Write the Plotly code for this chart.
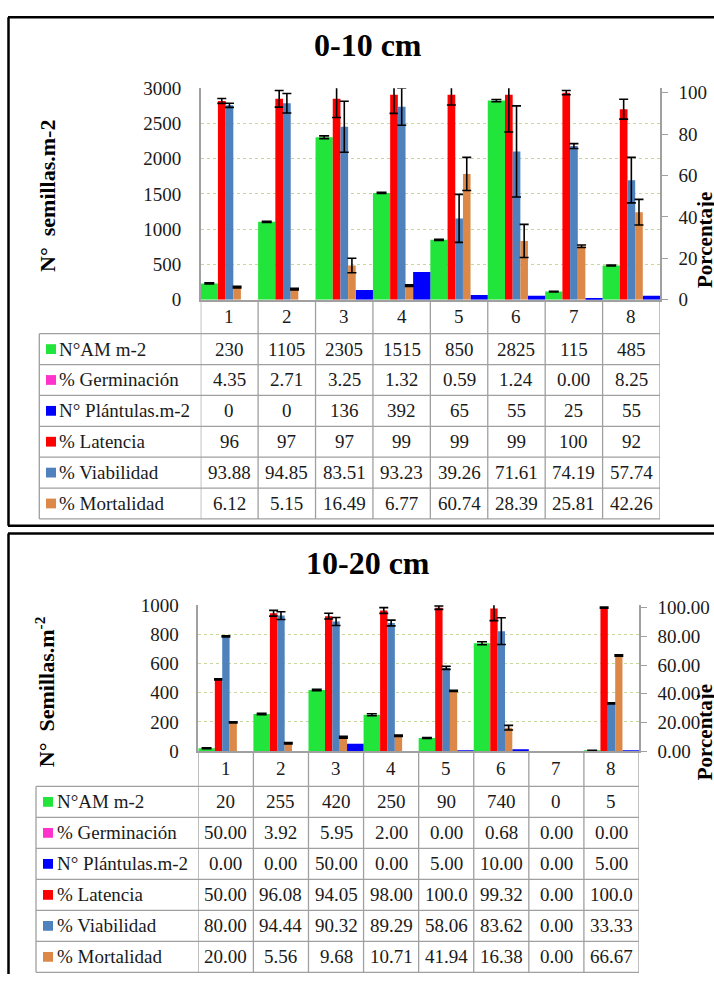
import plotly.graph_objects as go

W, H = 714, 985
NAN = float("nan")

# ---------------- data ----------------
categories = ["1", "2", "3", "4", "5", "6", "7", "8"]
row_labels = ["N°AM m-2", "% Germinación", "N° Plántulas.m-2", "% Latencia", "% Viabilidad", "% Mortalidad"]

# 0-10 cm
top_am = [230, 1105, 2305, 1515, 850, 2825, 115, 485]
top_germ = [4.35, 2.71, 3.25, 1.32, 0.59, 1.24, 0.00, 8.25]
top_plant = [0, 0, 136, 392, 65, 55, 25, 55]
top_lat = [96, 97, 97, 99, 99, 99, 100, 92]
top_viab = [93.88, 94.85, 83.51, 93.23, 39.26, 71.61, 74.19, 57.74]
top_mort = [6.12, 5.15, 16.49, 6.77, 60.74, 28.39, 25.81, 42.26]
top_am_err = [8, 8, 20, 8, 8, 15, 5, 8]
top_lat_err = [1.2, 4.0, 9.0, 9.0, 5.0, 18.0, 1.0, 4.8]
top_viab_err = [1.0, 4.7, 12.3, 9.0, 11.6, 22.0, 1.2, 11.0]
top_mort_err = [0.4, 0.4, 3.5, 0.4, 8.0, 8.0, 0.6, 6.2]

# 10-20 cm
bot_am = [20, 255, 420, 250, 90, 740, 0, 5]
bot_germ = [50.00, 3.92, 5.95, 2.00, 0.00, 0.68, 0.00, 0.00]
bot_plant = [0, 0, 50, 0, 5, 10, 0, 5]
bot_lat = [50.00, 96.08, 94.05, 98.00, 100.0, 99.32, 0.00, 100.0]
bot_viab = [80.00, 94.44, 90.32, 89.29, 58.06, 83.62, 0.00, 33.33]
bot_mort = [20.00, 5.56, 9.68, 10.71, 41.94, 16.38, 0.00, 66.67]
bot_am_err = [3, 5, 5, 7, 3, 10, 0, 0]
bot_lat_err = [0.4, 2.0, 2.0, 2.0, 1.2, 8.4, 0, 0.4]
bot_viab_err = [0.4, 2.7, 2.8, 2.0, 1.1, 9.3, 0, 0.4]
bot_mort_err = [0.4, 0.5, 0.6, 0.5, 0.4, 1.6, 0, 0.5]

# ---------------- styles ----------------
C_GREEN = "#22E53C"
C_MAG = "#FF33CC"
C_BLUE = "#0000FF"
C_RED = "#FF0000"
C_STEEL = "#4F81BD"
C_ORANGE = "#DB8848"
row_colors = [C_GREEN, C_MAG, C_BLUE, C_RED, C_STEEL, C_ORANGE]
GRAY = "#a0a0a0"
FONT = "Liberation Serif"
TXT = "#1a1a1a"


def px(x):
    return x / W


def py(y):
    return 1 - y / H


def nz(vals):
    # empty (zero) cells draw no bar and no error bar
    return [v if v else None for v in vals]


fig = go.Figure()


def err(arr, w=4.5):
    return dict(type="data", array=arr, visible=True, color="black", thickness=1.6, width=w)


def add_panel(xa, ya_p, ya_s, am, plant, lat, viab, mort, am_e, lat_e, viab_e, mort_e):
    common = dict(x=categories, xaxis=xa, showlegend=False, marker_line_width=0)
    fig.add_trace(go.Bar(y=nz(am), yaxis=ya_p, offset=-0.5, width=0.3, marker_color=C_GREEN,
                         error_y=err(am_e, 5), **common))
    fig.add_trace(go.Bar(y=nz(lat), yaxis=ya_s, offset=-0.2, width=0.134, marker_color=C_RED,
                         error_y=err(lat_e), **common))
    fig.add_trace(go.Bar(y=nz(viab), yaxis=ya_s, offset=-0.066, width=0.134, marker_color=C_STEEL,
                         error_y=err(viab_e), **common))
    fig.add_trace(go.Bar(y=nz(mort), yaxis=ya_s, offset=0.068, width=0.132, marker_color=C_ORANGE,
                         error_y=err(mort_e), **common))
    fig.add_trace(go.Bar(y=nz(plant), yaxis=ya_p, offset=0.2, width=0.3, marker_color=C_BLUE, **common))


add_panel("x", "y", "y2", top_am, top_plant, top_lat, top_viab, top_mort,
          top_am_err, top_lat_err, top_viab_err, top_mort_err)
add_panel("x2", "y3", "y4", bot_am, bot_plant, bot_lat, bot_viab, bot_mort,
          bot_am_err, bot_lat_err, bot_viab_err, bot_mort_err)

tickfont = dict(family=FONT, size=19, color=TXT)
grid = dict(showgrid=True, gridcolor="#c5d89a", griddash="dot", gridwidth=1)

# panel geometry (px)
TOP = dict(x0=200.7, x1=660, y0=80, y1=296)
BOT = dict(x0=198.3, x1=639, y0=608.3, y1=757.3)

xcommon = dict(type="category", range=[-0.5, 7.5], showgrid=False, showticklabels=False,
               showline=True, linecolor=GRAY, linewidth=1.5, ticks="", zeroline=False, fixedrange=True)

fig.update_layout(
    width=W, height=H, margin=dict(l=0, r=0, t=0, b=0),
    paper_bgcolor="white", plot_bgcolor="white", barmode="overlay",
    xaxis=dict(domain=[px(TOP["x0"]), px(TOP["x1"])], anchor="y", **xcommon),
    yaxis=dict(domain=[py(TOP["y1"]), py(TOP["y0"])], anchor="x", range=[0, 3000],
               tickvals=[0, 500, 1000, 1500, 2000, 2500, 3000], ticks="",
               showline=True, linecolor=GRAY, linewidth=1.5, zeroline=False,
               tickfont=tickfont, ticklabelstandoff=14, **grid),
    yaxis2=dict(overlaying="y", side="right", anchor="x", range=[0, 102.1],
                tickvals=[0, 20, 40, 60, 80, 100], showgrid=False, zeroline=False,
                showline=True, linecolor=GRAY, linewidth=1.5, ticks="outside", ticklen=6,
                tickcolor=GRAY, tickwidth=1.3, tickfont=tickfont, ticklabelstandoff=7),
    xaxis2=dict(domain=[px(BOT["x0"]), px(BOT["x1"])], anchor="y3", **xcommon),
    yaxis3=dict(domain=[py(BOT["y1"]), py(BOT["y0"])], anchor="x2", range=[0, 1000],
                tickvals=[0, 200, 400, 600, 800, 1000], ticks="",
                showline=True, linecolor=GRAY, linewidth=1.5, zeroline=False,
                tickfont=tickfont, ticklabelstandoff=14, **grid),
    yaxis4=dict(overlaying="y3", side="right", anchor="x2", range=[0, 101.6],
                tickvals=[0, 20, 40, 60, 80, 100], tickformat=".2f", showgrid=False, zeroline=False,
                showline=True, linecolor=GRAY, linewidth=1.5, ticks="outside", ticklen=6,
                tickcolor=GRAY, tickwidth=1.3, tickfont=tickfont, ticklabelstandoff=7),
)

shapes = []
annotations = []


def hline(x0, x1, y, color=GRAY, w=1.3):
    shapes.append(dict(type="line", xref="paper", yref="paper", x0=px(x0), x1=px(x1),
                       y0=py(y), y1=py(y), line=dict(color=color, width=w)))


def vline(x, y0, y1, color=GRAY, w=1.3, xref="paper"):
    xv = px(x) if xref == "paper" else x
    shapes.append(dict(type="line", xref=xref, yref="paper", x0=xv, x1=xv,
                       y0=py(y0), y1=py(y1), line=dict(color=color, width=w)))


def table(xref, geo, left, key_x, text_x, row_top, row_h, rows, fmts):
    header_c = (geo["y1"] + row_top) / 2
    bottom = row_top + row_h * len(rows)
    for k in range(len(rows) + 1):
        hline(left, geo["x1"], row_top + k * row_h)
    vline(left, row_top, bottom)
    for k in range(len(categories) + 1):
        vline(k - 0.5, geo["y1"], bottom, xref=xref)
    for i, c in enumerate(categories):
        annotations.append(dict(x=i, xref=xref, y=py(header_c), yref="paper", text=c,
                                showarrow=False, font=dict(family=FONT, size=19, color=TXT),
                                xanchor="center", yanchor="middle"))
    for r, (lab, vals) in enumerate(zip(row_labels, rows)):
        yc = row_top + (r + 0.5) * row_h
        shapes.append(dict(type="rect", xref="paper", yref="paper", x0=px(key_x), x1=px(key_x + 10),
                           y0=py(yc + 5), y1=py(yc - 5), fillcolor=row_colors[r], line=dict(width=0)))
        annotations.append(dict(x=px(text_x), xref="paper", y=py(yc), yref="paper", text=lab,
                                showarrow=False, font=dict(family=FONT, size=19, color=TXT),
                                xanchor="left", yanchor="middle"))
        for i, v in enumerate(vals):
            annotations.append(dict(x=i, xref=xref, y=py(yc), yref="paper", text=fmts[r](v),
                                    showarrow=False, font=dict(family=FONT, size=19, color=TXT),
                                    xanchor="center", yanchor="middle"))


f0 = lambda v: "{:.0f}".format(v)
f2 = lambda v: "{:.2f}".format(v)
f2t = lambda v: "{:.2f}".format(v)[:5]

table("x", TOP, 39.3, 46, 57, 330.7, 31.55,
      [top_am, top_germ, top_plant, top_lat, top_viab, top_mort],
      [f0, f2, f0, f0, f2, f2])
table("x2", BOT, 36, 43, 55, 793.3, 31.67,
      [bot_am, bot_germ, bot_plant, bot_lat, bot_viab, bot_mort],
      [f0, f2t, f2t, f2t, f2t, f2t])

# panel borders
hline(8, 714, 7.5, "black", 2.5)
vline(8.5, 7.5, 527, "black", 2.5)
hline(8, 714, 527, "black", 2.5)
hline(8, 714, 535, "black", 2.5)
vline(8.5, 535, 985, "black", 2.5)


def ann(x, y, text, size, angle=0):
    annotations.append(dict(x=px(x), y=py(y), xref="paper", yref="paper", text=text,
                            showarrow=False, textangle=angle, xanchor="center", yanchor="middle",
                            font=dict(family=FONT, size=size, color="black")))


ann(368, 36, "<b>0-10 cm</b>", 32)
ann(368, 565, "<b>10-20 cm</b>", 32)
ann(48, 190, "<b>N°\u00a0\u00a0semillas.m-2</b>", 22, -90)
ann(45, 697, "<b>N°\u00a0 Semillas.m<sup>-2</sup></b>", 22, -90)
ann(705, 235, "<b>Porcentaje</b>", 21, -90)
ann(705, 738, "<b>Porcentaje</b>", 21, -90)

fig.update_layout(shapes=shapes, annotations=annotations)

fig.write_html("out.html")
